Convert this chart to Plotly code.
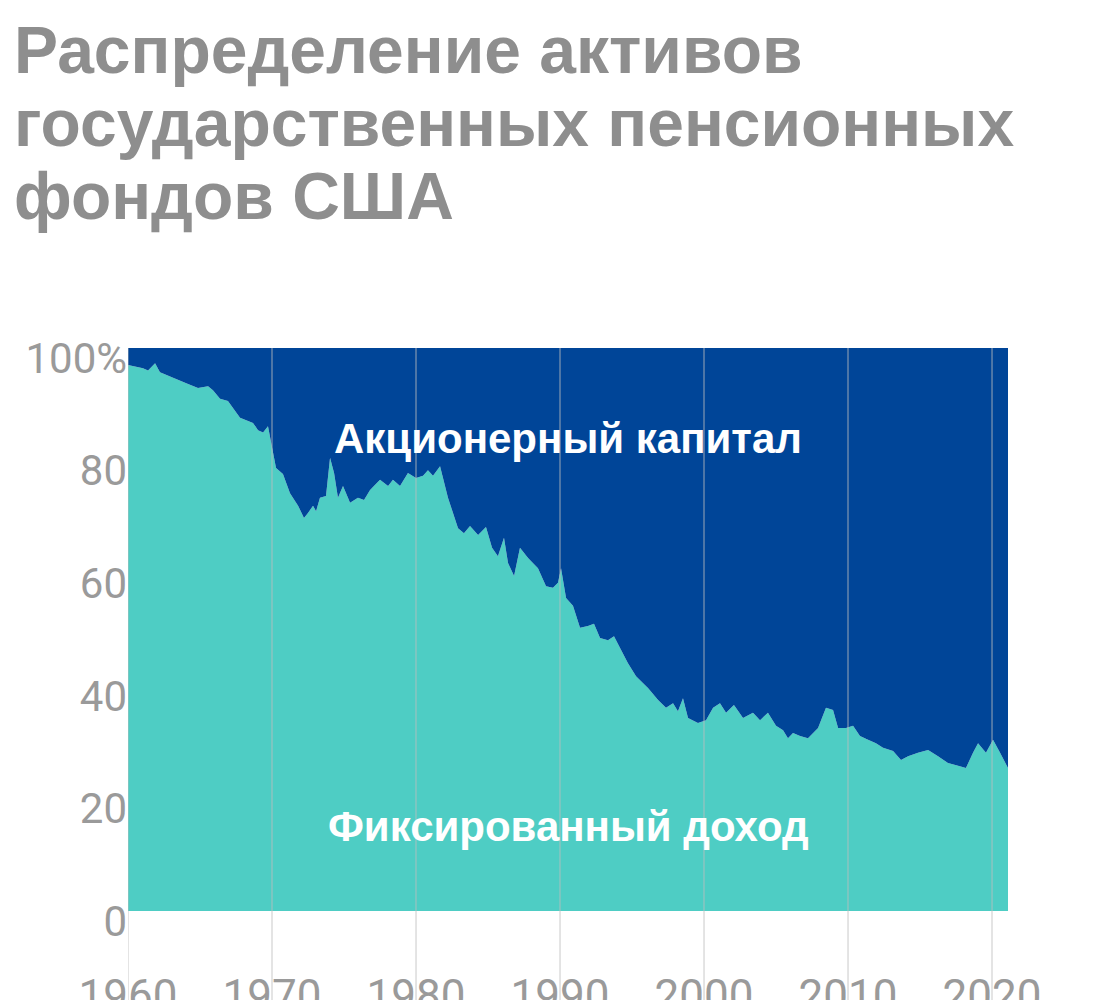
import plotly.graph_objects as go

years = [1960.0,1961.04,1961.39,1961.88,1962.22,1963.13,1964.17,1964.86,1965.56,1965.9,1966.39,1966.94,1967.78,1968.68,1969.03,1969.38,1969.72,1970.28,1970.76,1971.25,1971.81,1972.22,1972.5,1972.85,1973.06,1973.33,1973.75,1974.03,1974.31,1974.58,1974.93,1975.42,1975.97,1976.39,1976.81,1977.5,1978.06,1978.4,1978.89,1979.44,1980.0,1980.49,1980.83,1981.18,1981.67,1982.22,1982.92,1983.33,1983.75,1984.31,1984.86,1985.28,1985.69,1986.11,1986.39,1986.81,1987.22,1987.78,1988.47,1989.03,1989.51,1989.86,1990.07,1990.42,1990.9,1991.39,1991.94,1992.36,1992.78,1993.33,1993.75,1994.17,1994.72,1995.28,1996.11,1996.81,1997.36,1997.85,1998.19,1998.54,1998.89,1999.58,2000.14,2000.63,2001.11,2001.53,2002.08,2002.71,2003.4,2003.89,2004.44,2005.0,2005.49,2005.83,2006.18,2006.67,2007.22,2007.92,2008.47,2008.96,2009.31,2009.86,2010.35,2010.83,2011.39,2011.94,2012.43,2013.13,2013.68,2014.17,2014.86,2015.56,2016.25,2016.94,2017.64,2018.19,2018.68,2019.03,2019.58,2020.07,2020.56,2021.11]
fixed_income = [97,96.4,96,97.3,95.7,94.7,93.6,92.9,93.2,92.5,91,90.6,87.6,86.7,85.4,85,86.1,78.7,77.6,74.2,72,69.8,70.7,72,71,73.4,73.7,80.5,77.8,73.4,75.5,72.5,73.4,73,74.8,76.6,75.5,76.6,75.5,77.8,76.9,77.3,78.3,77.3,79,73.4,68,67.1,68.4,66.8,68.2,64.5,63,66.3,61.8,59.5,64.5,62.7,60.9,57.7,57.4,58.3,60.9,55.6,54.2,50.3,50.6,51,48.5,48.1,48.8,46.7,44,41.7,39.6,37.5,36.1,36.9,35.5,37.8,34.3,33.4,33.9,36.1,36.9,35.2,36.6,34.3,35.2,33.9,35.2,32.9,32.1,30.7,31.6,31.1,30.7,32.5,36.1,35.7,32.5,32.5,32.9,31.1,30.4,29.8,29,28.4,26.8,27.5,28.1,28.6,27.5,26.3,25.8,25.4,28.1,29.8,28.1,30.4,28.1,25.4]
equity = [round(100 - v, 1) for v in fixed_income]
decades = [1960, 1970, 1980, 1990, 2000, 2010, 2020]
y_ticks = [0, 20, 40, 60, 80, 100]
y_labels = ["0", "20", "40", "60", "80", "100%"]
title_lines = ["Распределение активов", "государственных пенсионных", "фондов США"]

fig = go.Figure()
fig.add_trace(go.Scatter(x=years, y=fixed_income, stackgroup="a", mode="none",
                         fillcolor="#4ecdc4", line=dict(width=0), hoverinfo="skip"))
fig.add_trace(go.Scatter(x=years, y=equity, stackgroup="a", mode="none",
                         fillcolor="#004598", line=dict(width=0), hoverinfo="skip"))

for d in decades:
    fig.add_shape(type="line", x0=d, x1=d, xref="x", yref="paper", y0=-0.18, y1=1,
                  line=dict(color="rgba(190,190,190,0.55)", width=1.5), layer="above")

fig.add_annotation(text="Акционерный капитал", x=0.5, y=0.885, xref="paper", yref="paper",
                   showarrow=False, font=dict(family="Liberation Sans", size=42, color="white", weight="bold"))
fig.add_annotation(text="Фиксированный доход", x=0.5, y=0.105, xref="paper", yref="paper",
                   showarrow=False, font=dict(family="Liberation Sans", size=42, color="white", weight="bold"))
for i, line in enumerate(title_lines):
    fig.add_annotation(text=line, x=0, y=1, xref="paper", yref="paper", xanchor="left",
                       yanchor="middle", showarrow=False, xshift=-116, yshift=298 - 73 * i,
                       font=dict(family="Liberation Sans", size=66, color="#8e8e8e", weight="bold"))

fig.update_layout(
    width=1120, height=1000, margin=dict(l=120, r=120, t=340, b=97, autoexpand=False),
    paper_bgcolor="white", plot_bgcolor="white", showlegend=False,
    xaxis=dict(range=[1960, 2021.11], tickvals=decades, showgrid=False, zeroline=False,
               ticks="outside", ticklen=46, tickcolor="rgba(0,0,0,0)", automargin=False,
               tickfont=dict(family="Roboto", size=44, color="#9a9a9a")),
    yaxis=dict(range=[0, 100], tickvals=y_ticks, ticktext=y_labels, showgrid=False,
               zeroline=False, ticklabelshift=10, automargin=False,
               tickfont=dict(family="Roboto", size=42, color="#9a9a9a")),
)
fig.write_html("out.html")
